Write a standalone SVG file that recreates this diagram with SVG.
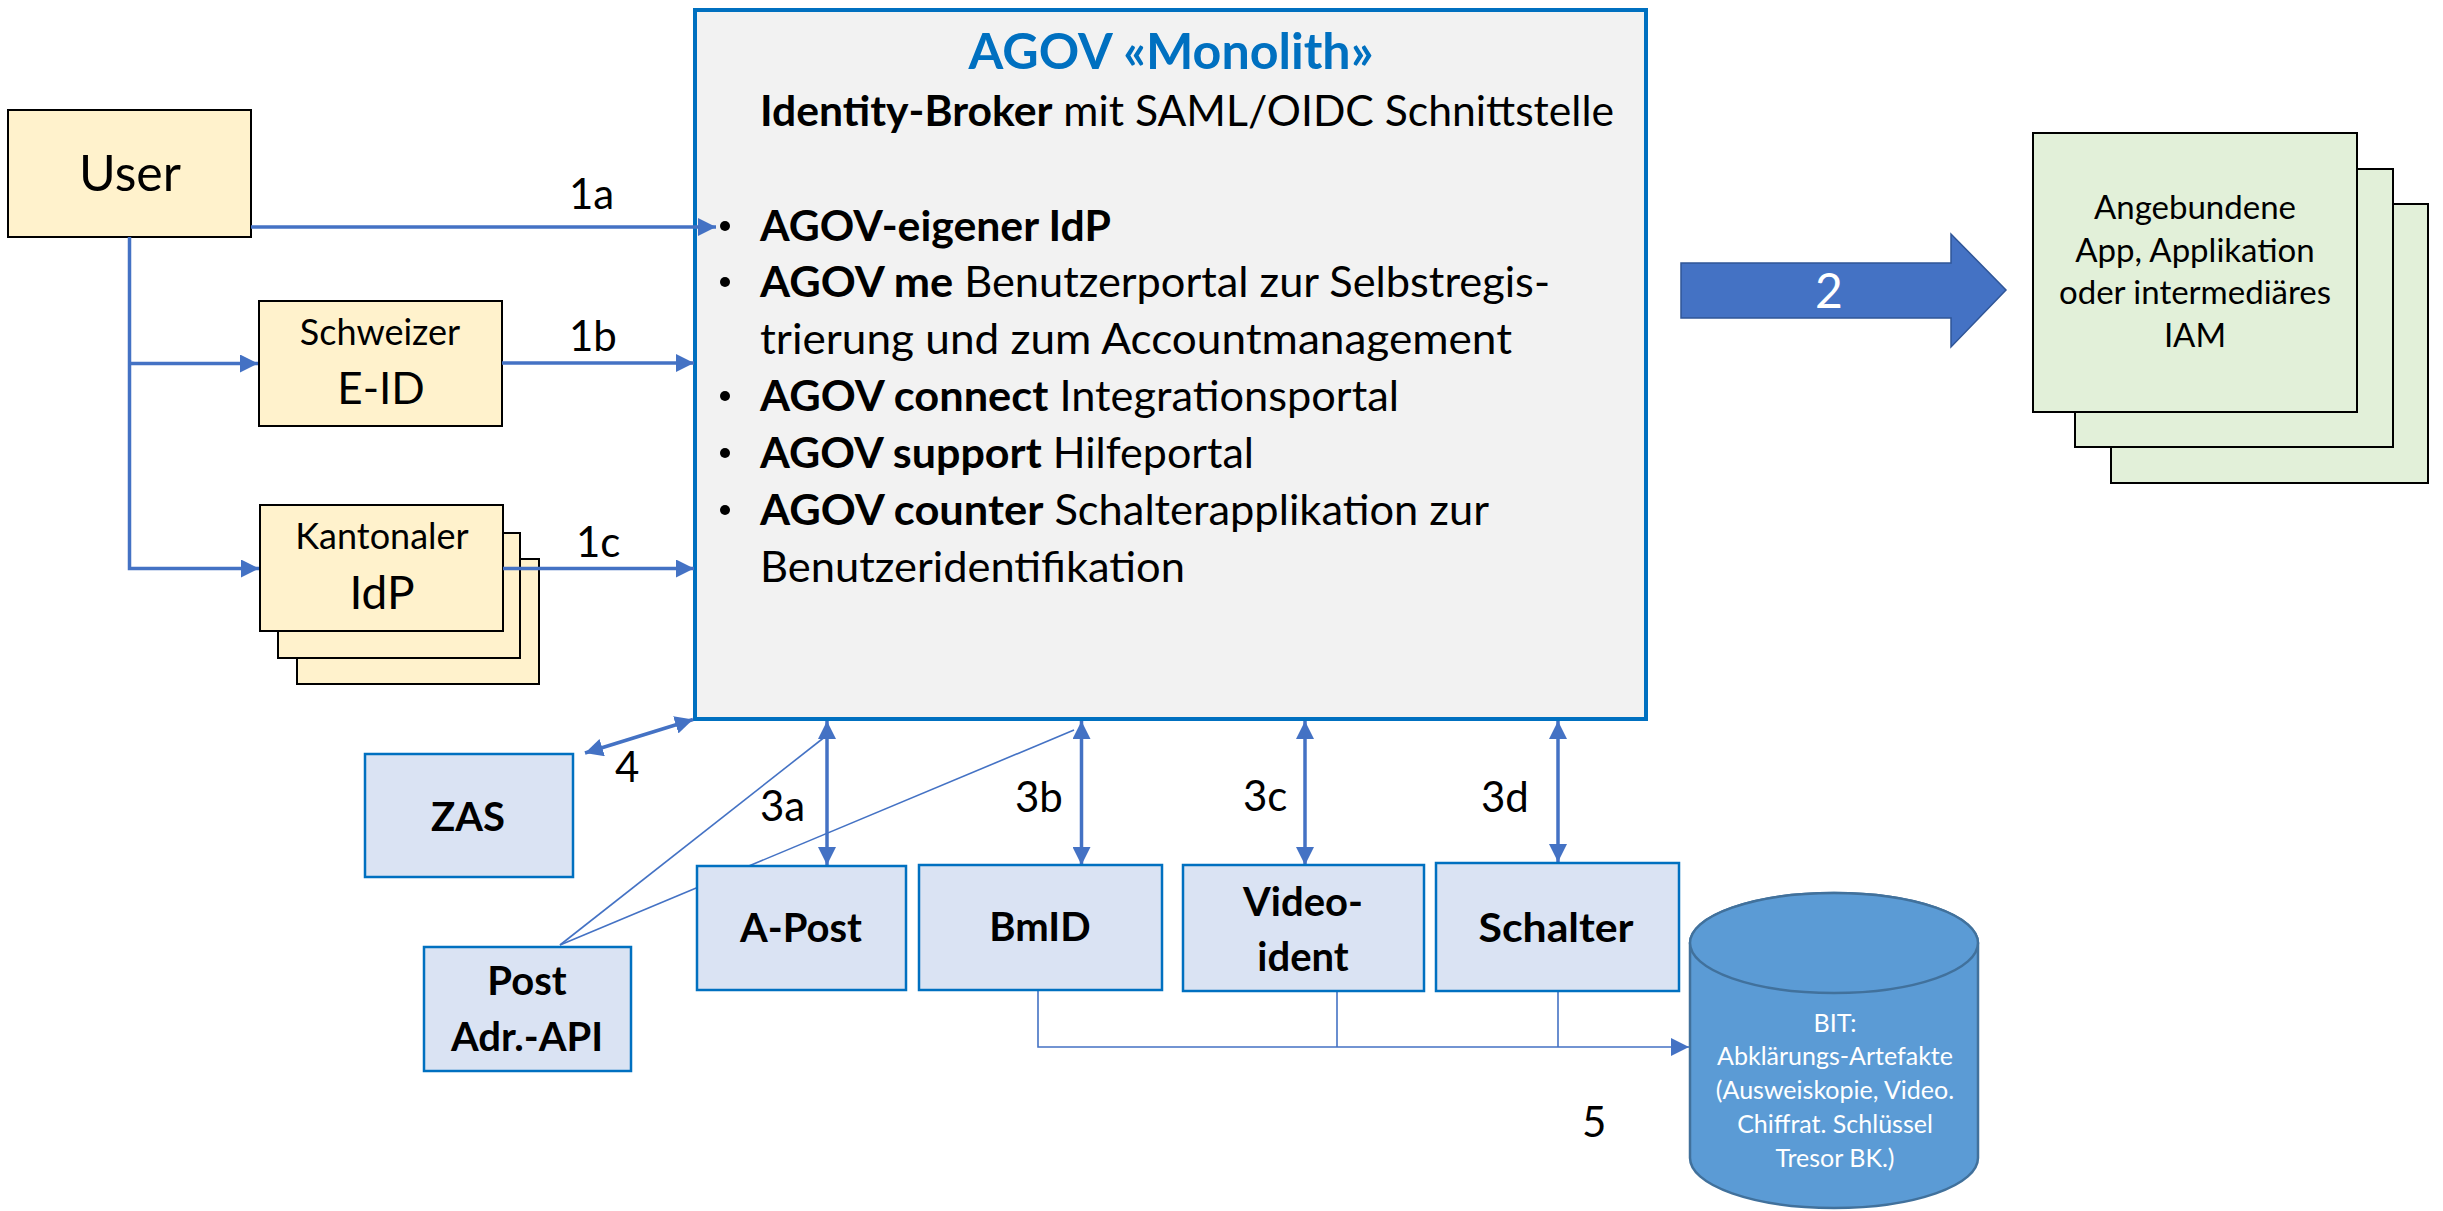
<svg xmlns="http://www.w3.org/2000/svg" width="2443" height="1211" viewBox="0 0 2443 1211">
<style>
text{font-family:Lato,"Liberation Sans",sans-serif;fill:#000}
.y{fill:#FFF2CC;stroke:#000;stroke-width:2}
.g{fill:#E2F0D9;stroke:#000;stroke-width:2}
.b{fill:#DAE3F3;stroke:#0070C0;stroke-width:2.5}
.c{fill:none;stroke:#4472C4;stroke-width:3.5}
.t{fill:none;stroke:#4472C4;stroke-width:1.6}
.lbl{font-size:42px}
.bt{font-size:40px;font-weight:bold;text-anchor:middle}
.mt{font-size:42px}
.gt{font-size:33px;text-anchor:middle}
.ct{font-size:25px;text-anchor:middle;fill:#fff}
.w{fill:#fff}
</style>
<defs>
<marker id="ah" markerUnits="userSpaceOnUse" markerWidth="18" markerHeight="18" refX="16" refY="8" orient="auto-start-reverse" viewBox="0 0 16 16">
<path d="M0,0 L16,8 L0,16 z" fill="#4472C4"/>
</marker>
</defs>
<rect width="2443" height="1211" fill="#fff"/>

<g id="monolith">
<rect x="695" y="10" width="951" height="709" fill="#F2F2F2" stroke="#0070C0" stroke-width="4"/>
<text x="1171" y="69" text-anchor="middle" font-size="50" font-weight="bold" style="fill:#0070C0" textLength="405" lengthAdjust="spacingAndGlyphs">AGOV «Monolith»</text>
<text class="mt" x="760" y="126" textLength="854" lengthAdjust="spacingAndGlyphs"><tspan font-weight="bold">Identity-Broker</tspan> mit SAML/OIDC Schnittstelle</text>
<circle cx="725" cy="226" r="5"/>
<circle cx="725" cy="282" r="5"/>
<circle cx="725" cy="396" r="5"/>
<circle cx="725" cy="453" r="5"/>
<circle cx="725" cy="510" r="5"/>
<text class="mt" x="760" y="241" font-weight="bold" textLength="351" lengthAdjust="spacingAndGlyphs">AGOV-eigener IdP</text>
<text class="mt" x="760" y="297" textLength="790" lengthAdjust="spacingAndGlyphs"><tspan font-weight="bold">AGOV me</tspan> Benutzerportal zur Selbstregis-</text>
<text class="mt" x="760" y="354" textLength="752" lengthAdjust="spacingAndGlyphs">trierung und zum Accountmanagement</text>
<text class="mt" x="760" y="411" textLength="639" lengthAdjust="spacingAndGlyphs"><tspan font-weight="bold">AGOV connect</tspan> Integrationsportal</text>
<text class="mt" x="760" y="468" textLength="494" lengthAdjust="spacingAndGlyphs"><tspan font-weight="bold">AGOV support</tspan> Hilfeportal</text>
<text class="mt" x="760" y="525" textLength="729" lengthAdjust="spacingAndGlyphs"><tspan font-weight="bold">AGOV counter</tspan> Schalterapplikation zur</text>
<text class="mt" x="760" y="582" textLength="425" lengthAdjust="spacingAndGlyphs">Benutzeridentifikation</text>
</g>

<g id="user">
<rect class="y" x="8" y="110" width="243" height="127"/>
<text x="130" y="191" text-anchor="middle" font-size="50">User</text>
</g>

<g id="eid">
<rect class="y" x="259" y="301" width="243" height="125"/>
<text x="380" y="345" text-anchor="middle" font-size="36">Schweizer</text>
<text x="381" y="404" text-anchor="middle" font-size="44">E-ID</text>
</g>

<g id="kantonaler-idp">
<rect class="y" x="297" y="559" width="242" height="125"/>
<rect class="y" x="278" y="533" width="242" height="125"/>
<rect class="y" x="260" y="505" width="243" height="126"/>
<text x="382" y="549" text-anchor="middle" font-size="36">Kantonaler</text>
<text x="382" y="609" text-anchor="middle" font-size="46">IdP</text>
</g>

<g id="apps">
<rect class="g" x="2111" y="204" width="317" height="279"/>
<rect class="g" x="2075" y="169" width="318" height="278"/>
<rect class="g" x="2033" y="133" width="324" height="279"/>
<text class="gt" x="2195" y="219">Angebundene</text>
<text class="gt" x="2195" y="262">App, Applikation</text>
<text class="gt" x="2195" y="304">oder intermediäres</text>
<text class="gt" x="2195" y="347">IAM</text>
</g>

<g id="arrow2">
<path d="M1681,263 H1951 V234 L2006,290 L1951,347 V318 H1681 Z" fill="#4472C4" stroke="#2F5597" stroke-width="1.5"/>
<text x="1829" y="308" text-anchor="middle" font-size="48" class="w">2</text>
</g>

<g id="connectors">
<path class="c" d="M251,227 H716" marker-end="url(#ah)"/>
<path class="c" d="M129.5,237 V568.5 H259" marker-end="url(#ah)"/>
<path class="c" d="M129.5,363.5 H258" marker-end="url(#ah)"/>
<path class="c" d="M502,363 H694" marker-end="url(#ah)"/>
<path class="c" d="M503,568.5 H694" marker-end="url(#ah)"/>
<path class="c" d="M585,753 L693,719.5" marker-start="url(#ah)" marker-end="url(#ah)"/>
<path class="c" d="M827,721 V865" marker-start="url(#ah)" marker-end="url(#ah)"/>
<path class="c" d="M1081.5,721 V865" marker-start="url(#ah)" marker-end="url(#ah)"/>
<path class="c" d="M1305,721 V865" marker-start="url(#ah)" marker-end="url(#ah)"/>
<path class="c" d="M1558,721 V862" marker-start="url(#ah)" marker-end="url(#ah)"/>
<path class="t" d="M560,945 L826,736"/>
<path class="t" d="M560,945 L1074,730"/>
<path class="t" d="M1038,991 V1047 H1689" marker-end="url(#ah)"/>
<path class="t" d="M1337,991 V1047"/>
<path class="t" d="M1558,991 V1047"/>
<text class="lbl" x="569" y="209">1a</text>
<text class="lbl" x="569" y="351">1b</text>
<text class="lbl" x="576" y="557">1c</text>
<text class="lbl" x="615" y="782">4</text>
<text class="lbl" x="760" y="821">3a</text>
<text class="lbl" x="1015" y="812">3b</text>
<text class="lbl" x="1243" y="811">3c</text>
<text class="lbl" x="1481" y="812">3d</text>
<text class="lbl" x="1582" y="1137">5</text>
</g>

<g id="zas">
<rect class="b" x="365" y="754" width="208" height="123"/>
<text class="bt" x="468" y="831">ZAS</text>
</g>

<g id="post-adr-api">
<rect class="b" x="424" y="947" width="207" height="124"/>
<text class="bt" x="527" y="995">Post</text>
<text class="bt" x="527" y="1051">Adr.-API</text>
</g>

<g id="a-post">
<rect class="b" x="697" y="866" width="209" height="124"/>
<text class="bt" x="801" y="942">A-Post</text>
</g>

<g id="bmid">
<rect class="b" x="919" y="865" width="243" height="125"/>
<text class="bt" x="1040" y="941">BmID</text>
</g>

<g id="videoident">
<rect class="b" x="1183" y="865" width="241" height="126"/>
<text class="bt" x="1303" y="916">Video-</text>
<text class="bt" x="1303" y="971">ident</text>
</g>

<g id="schalter">
<rect class="b" x="1436" y="863" width="243" height="128"/>
<text class="bt" x="1556" y="942" textLength="155" lengthAdjust="spacingAndGlyphs">Schalter</text>
</g>

<g id="bit">
<path d="M1690,943 A144,50 0 0 1 1978,943 V1158 A144,50 0 0 1 1690,1158 Z" fill="#5B9BD5" stroke="#41719C" stroke-width="2.5"/>
<ellipse cx="1834" cy="943" rx="144" ry="50" fill="#5B9BD5" stroke="#41719C" stroke-width="2.5"/>
<text class="ct" x="1835" y="1032">BIT:</text>
<text class="ct" x="1835" y="1065">Abklärungs-Artefakte</text>
<text class="ct" x="1835" y="1099">(Ausweiskopie, Video.</text>
<text class="ct" x="1835" y="1133">Chiffrat. Schlüssel</text>
<text class="ct" x="1835" y="1167">Tresor BK.)</text>
</g>
</svg>
